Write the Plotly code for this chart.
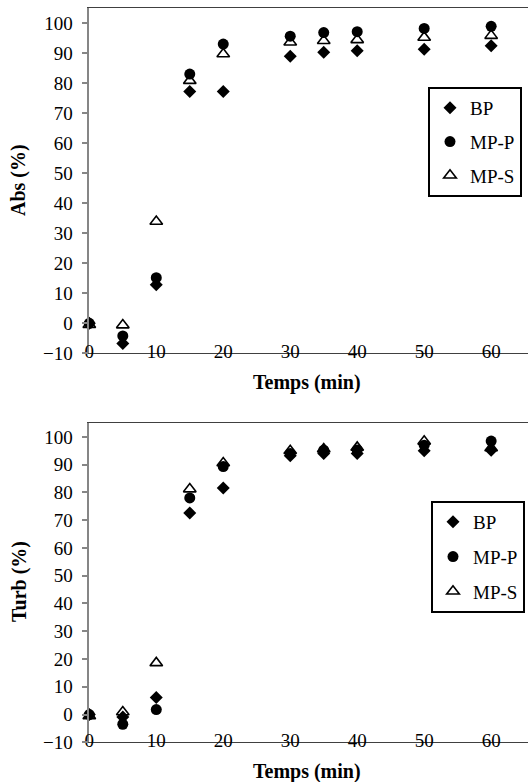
import plotly.graph_objects as go

# ---------------- data ----------------
temps = [0, 5, 10, 15, 20, 30, 35, 40, 50, 60]

abs_bp = [0, -6.7, 12.8, 77.2, 77.2, 88.9, 90.3, 90.8, 91.3, 92.4]
abs_mpp = [0, -4.2, 15.2, 83.0, 93.0, 95.6, 96.8, 97.1, 98.2, 98.9]
abs_mps = [-0.5, -0.6, 33.9, 80.8, 89.7, 93.6, 94.1, 94.4, 95.2, 95.8]

turb_bp = [0, -0.9, 6.1, 72.6, 81.6, 93.2, 94.0, 94.0, 95.0, 95.2]
turb_mpp = [0, -3.5, 1.8, 78.0, 89.3, 94.0, 95.2, 95.3, 97.0, 98.5]
turb_mps = [-0.5, 0.9, 18.6, 81.2, 90.6, 95.0, 95.6, 96.2, 98.4, 96.0]

series_names = ["BP", "MP-P", "MP-S"]
x_ticks = [0, 10, 20, 30, 40, 50, 60]
y_ticks = [-10, 0, 10, 20, 30, 40, 50, 60, 70, 80, 90, 100]

# ---------------- styling ----------------
W, H = 528, 782
FONT = "Liberation Serif, Times New Roman, DejaVu Serif, serif"
TICK_SIZE = 19
TITLE_SIZE = 20
AXIS_GRAY = "#868686"
BORDER = "#404040"
X_RANGE = [0, 65.5]
Y_RANGE = [-10, 105]

x_dom = [89.3 / W, 1.0]
top_dom = [1 - 353.3 / H, 1 - 8 / H]
bot_dom = [1 - 742.3 / H, 1 - 423 / H]


def zero_pos(dom):
    return dom[0] + (0 - Y_RANGE[0]) / (Y_RANGE[1] - Y_RANGE[0]) * (dom[1] - dom[0])


markers = [
    dict(symbol="diamond", size=10, color="black"),
    dict(symbol="circle", size=11, color="black"),
    dict(symbol="triangle-up-open", size=11, color="black", line=dict(width=1.6, color="black")),
]

fig = go.Figure()

for name, ys, mk in zip(series_names, [abs_bp, abs_mpp, abs_mps], markers):
    fig.add_trace(go.Scatter(x=temps, y=ys, mode="markers", name=name, marker=mk,
                             xaxis="x", yaxis="y", legend="legend", legendgroup="a" + name,
                             cliponaxis=False))

for name, ys, mk in zip(series_names, [turb_bp, turb_mpp, turb_mps], markers):
    fig.add_trace(go.Scatter(x=temps, y=ys, mode="markers", name=name, marker=mk,
                             xaxis="x2", yaxis="y2", legend="legend2", legendgroup="b" + name,
                             cliponaxis=False))

tickfont = dict(family=FONT, size=TICK_SIZE, color="black")

main_x = dict(range=X_RANGE, domain=x_dom, tickvals=x_ticks, showgrid=False, zeroline=False,
              showline=True, linecolor=BORDER, linewidth=1.3, mirror=True, ticks="",
              tickfont=tickfont, ticklabelstandoff=-19, automargin=False, fixedrange=True)
zero_x = dict(range=X_RANGE, domain=x_dom, tickvals=x_ticks, showgrid=False, zeroline=False,
              showline=True, linecolor=AXIS_GRAY, linewidth=1.5, ticks="outside", ticklen=6,
              tickcolor=AXIS_GRAY, tickwidth=1.5, showticklabels=False, automargin=False,
              anchor="free")
main_y = dict(range=Y_RANGE, tickvals=y_ticks, showgrid=False, zeroline=False,
              showline=True, linecolor=AXIS_GRAY, linewidth=1.5, ticks="outside", ticklen=6,
              tickcolor=AXIS_GRAY, tickwidth=1.5, tickfont=tickfont, ticklabelstandoff=5,
              automargin=False)

legend_common = dict(xanchor="left", yanchor="top", bordercolor="black", borderwidth=2,
                     bgcolor="white", font=dict(family=FONT, size=TICK_SIZE, color="black"),
                     itemwidth=30)

fig.update_layout(
    width=W, height=H,
    margin=dict(l=0, r=0, t=0, b=0),
    paper_bgcolor="white", plot_bgcolor="white",
    xaxis=dict(main_x, anchor="y"),
    yaxis=dict(main_y, domain=top_dom, anchor="x"),
    xaxis2=dict(main_x, anchor="y2"),
    yaxis2=dict(main_y, domain=bot_dom, anchor="x2"),
    xaxis3=dict(zero_x, overlaying="x", position=zero_pos(top_dom)),
    xaxis4=dict(zero_x, overlaying="x2", position=zero_pos(bot_dom)),
    legend=dict(legend_common, x=428 / W, y=1 - 87 / H, tracegroupgap=6),
    legend2=dict(legend_common, x=431 / W, y=1 - 501 / H, tracegroupgap=7),
    showlegend=True,
)

title_font = dict(family=FONT, size=TITLE_SIZE, color="black")
annos = [
    dict(text="<b>Abs (%)</b>", x=19 / W, y=1 - 180 / H, textangle=-90),
    dict(text="<b>Turb (%)</b>", x=19 / W, y=1 - 582 / H, textangle=-90),
    dict(text="<b>Temps (min)</b>", x=307 / W, y=1 - 382 / H, textangle=0),
    dict(text="<b>Temps (min)</b>", x=307 / W, y=1 - 771 / H, textangle=0),
]
for a in annos:
    fig.add_annotation(xref="paper", yref="paper", showarrow=False, font=title_font,
                       xanchor="center", yanchor="middle", **a)

fig.write_html(
    "out.html",
    config={"displayModeBar": False, "responsive": False},
    post_script=("document.body.style.margin='0';document.body.style.overflow='hidden';"
                 "document.documentElement.style.overflow='hidden';"),
)
